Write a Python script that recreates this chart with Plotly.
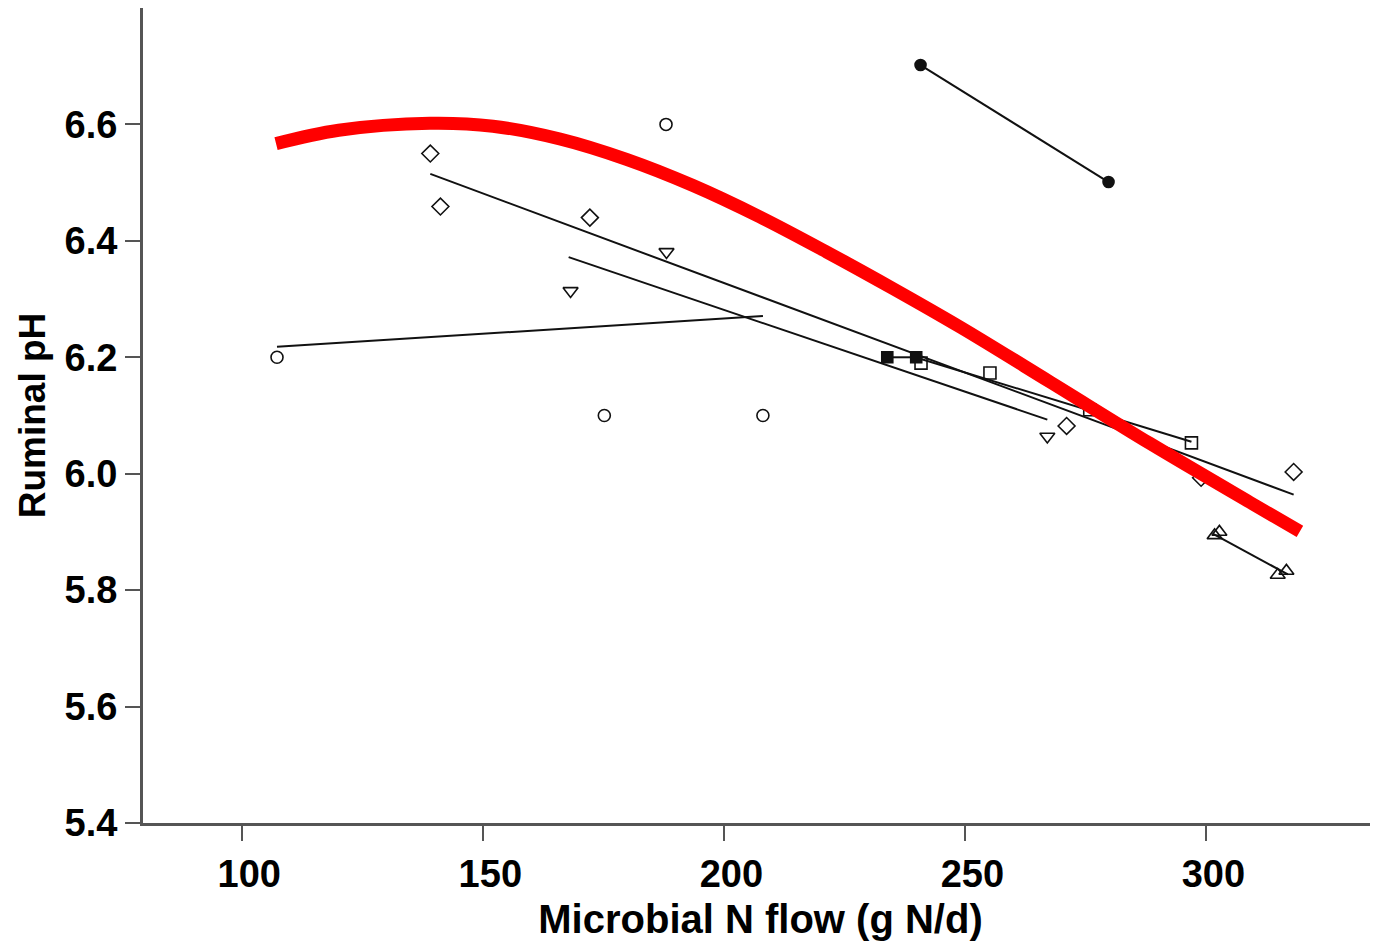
import plotly.graph_objects as go

# ---- data ----
# Study A: open circles
a_x = [107.2, 175.1, 187.9, 208.0]
a_y = [6.20, 6.10, 6.60, 6.10]
a_fit_x = [107.2, 208.0]
a_fit_y = [6.218, 6.271]

# Study B: open diamonds
b_x = [139.0, 141.1, 172.1, 271.0, 298.9, 318.1]
b_y = [6.550, 6.459, 6.440, 6.082, 5.993, 6.003]
b_fit_x = [139.0, 318.1]
b_fit_y = [6.515, 5.964]

# Study C: open down-triangles
c_x = [168.1, 188.0, 267.0]
c_y = [6.314, 6.381, 6.064]
c_fit_x = [167.7, 267.0]
c_fit_y = [6.372, 6.093]

# Study D: open squares
d_x = [240.8, 255.1, 275.8, 296.9]
d_y = [6.190, 6.173, 6.110, 6.053]
d_fit_x = [240.8, 296.9]
d_fit_y = [6.197, 6.055]

# Study E: filled squares
e_x = [233.8, 239.8]
e_y = [6.20, 6.20]

# Study F: filled circles
f_x = [240.7, 279.7]
f_y = [6.702, 6.501]

# Study G: open up-triangles
g_x = [301.7, 302.7, 314.8, 316.6]
g_y = [5.894, 5.900, 5.826, 5.833]
g_fit_x = [301.3, 316.9]
g_fit_y = [5.897, 5.827]

# Overall response curve (red)
curve_x = [107.0, 120.0, 138.9, 152.0, 165.9, 179.7, 193.5, 207.4, 221.2,
           235.0, 248.9, 267.5, 288.3, 309.0, 319.4]
curve_y = [6.567, 6.590, 6.602, 6.597, 6.575, 6.540, 6.495, 6.441, 6.381,
           6.318, 6.252, 6.158, 6.052, 5.951, 5.901]

x_ticks = [100, 150, 200, 250, 300]
y_ticks = [5.4, 5.6, 5.8, 6.0, 6.2, 6.4, 6.6]
y_tick_text = ["5.4", "5.6", "5.8", "6.0", "6.2", "6.4", "6.6"]

BLACK = "#111111"
FONT = "Liberation Sans, Arial, sans-serif"

fig = go.Figure()

def fit(xs, ys):
    fig.add_trace(go.Scatter(x=xs, y=ys, mode="lines",
                             line=dict(color=BLACK, width=2), hoverinfo="skip"))

def pts(xs, ys, symbol, size=12, lines=False):
    fig.add_trace(go.Scatter(
        x=xs, y=ys, mode="markers+lines" if lines else "markers",
        line=dict(color=BLACK, width=2),
        marker=dict(symbol=symbol, size=size, color=BLACK,
                    line=dict(color=BLACK, width=1.6))))

fit(a_fit_x, a_fit_y)
fit(b_fit_x, b_fit_y)
fit(c_fit_x, c_fit_y)
fit(d_fit_x, d_fit_y)
fit(g_fit_x, g_fit_y)

pts(a_x, a_y, "circle-open", 12)
pts(b_x, b_y, "diamond-open", 13)
pts(c_x, c_y, "triangle-down-open", 13)
pts(d_x, d_y, "square-open", 12)
pts(e_x, e_y, "square", 11, lines=True)
pts(f_x, f_y, "circle", 11, lines=True)
pts(g_x, g_y, "triangle-up-open", 13)

fig.add_trace(go.Scatter(x=curve_x, y=curve_y, mode="lines",
                         line=dict(color="#ff0000", width=13, shape="spline", smoothing=1.0)))

axis_common = dict(showline=True, linecolor="#555555", linewidth=3,
                   showgrid=False, zeroline=False, ticks="outside",
                   ticklen=15, tickwidth=2, tickcolor="#555555",
                   tickfont=dict(family=FONT, size=38, color="black", weight="bold"))

# the page body adds an 8px offset, so the margins compensate for it
fig.update_layout(
    width=1378, height=945,
    margin=dict(l=135, r=8, t=0, b=130),
    paper_bgcolor="white", plot_bgcolor="white",
    showlegend=False,
    xaxis=dict(range=[79.4, 335.6], tickvals=x_ticks, ticklabelshift=7,
               title=dict(text="Microbial N flow (g N/d)", standoff=12,
                          font=dict(family=FONT, size=40, color="black", weight="bold")),
               **axis_common),
    yaxis=dict(range=[5.4, 6.8], tickvals=y_ticks, ticktext=y_tick_text,
               title=dict(text="Ruminal pH", standoff=8,
                          font=dict(family=FONT, size=37, color="black", weight="bold")),
               **axis_common),
)

fig.write_html("out.html")
